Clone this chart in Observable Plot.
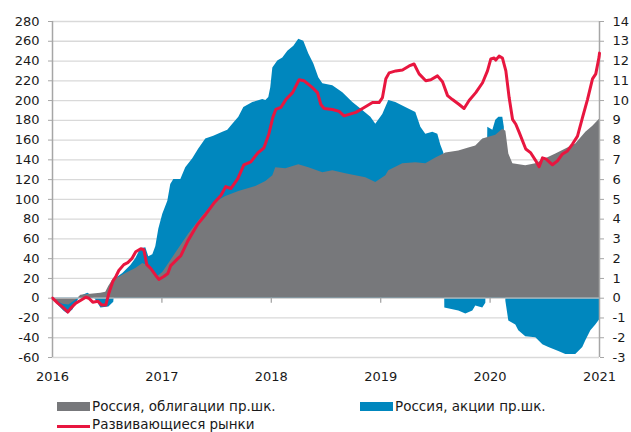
<!DOCTYPE html>
<html>
<head>
<meta charset="utf-8">
<script src="https://cdn.jsdelivr.net/npm/d3@7"></script>
<script src="https://cdn.jsdelivr.net/npm/@observablehq/plot@0.6"></script>
<style>
  html, body { margin: 0; padding: 0; background: #fff; }
  body { width: 631px; height: 432px; position: relative; overflow: hidden; font-family: "DejaVu Sans", sans-serif; color: #1a1a1a; }
  #chart svg { display: block; }
  .lg { position: absolute; font-size: 13.5px; line-height: 13.5px; white-space: nowrap; }
  .sw { position: absolute; }
</style>
</head>
<body>
<div id="chart"></div>
<div class="sw" style="left:57px; top:402px; width:33px; height:9px; background:#77787b;"></div>
<div class="lg" id="lg1" style="left:92px; top:399.6px;"></div>
<div class="sw" style="left:360px; top:402px; width:33px; height:9px; background:#0087be;"></div>
<div class="lg" id="lg2" style="left:395px; top:399.6px;"></div>
<div class="sw" style="left:57px; top:424.5px; width:33px; height:3px; background:#e8163f;"></div>
<div class="lg" id="lg3" style="left:92px; top:418.1px;"></div>
<script>
// ---- Data ----
const seriesNames = ["Россия, облигации пр.шк.", "Россия, акции пр.шк.", "Развивающиеся рынки"];
const years = [2016, 2017, 2018, 2019, 2020, 2021];
const leftTicks = [-60, -40, -20, 0, 20, 40, 60, 80, 100, 120, 140, 160, 180, 200, 220, 240, 260, 280];
const rightTicks = [-3, -2, -1, 0, 1, 2, 3, 4, 5, 6, 7, 8, 9, 10, 11, 12, 13, 14];

// Russia bonds (gray area), left-scale units
const bondT = [2016.000, 2016.094, 2016.149, 2016.213, 2016.259, 2016.350, 2016.442, 2016.487, 2016.515, 2016.560,
  2016.606, 2016.670, 2016.761, 2016.825, 2016.871, 2016.917, 2016.963, 2017.008, 2017.081, 2017.154,
  2017.246, 2017.356, 2017.474, 2017.584, 2017.703, 2017.858, 2017.950, 2018.014, 2018.041, 2018.133,
  2018.251, 2018.343, 2018.471, 2018.562, 2018.681, 2018.772, 2018.864, 2018.955, 2019.047, 2019.074,
  2019.202, 2019.321, 2019.412, 2019.504, 2019.595, 2019.714, 2019.805, 2019.869, 2019.933, 2020.052,
  2020.116, 2020.144, 2020.171, 2020.208, 2020.326, 2020.418, 2020.509, 2020.601, 2020.692, 2020.783,
  2020.875, 2020.939, 2021.000];
const bondV = [0, -6, -7, -2, 3, 4, 5, 6, 12, 20,
  21, 25, 30, 35, 33, 25, 22, 26, 38, 50,
  65, 81, 96, 103, 108, 113, 118, 124, 132, 131,
  135, 132, 127, 129, 126, 124, 122, 117, 124, 129,
  136, 137, 136, 142, 147, 149, 152, 154, 161, 165,
  171, 169, 146, 136, 134, 136, 141, 146, 151, 156,
  168, 174, 181];

// Russia stocks (blue area), left-scale units
const stockT = [2016.000, 2016.058, 2016.103, 2016.140, 2016.186, 2016.222, 2016.259, 2016.323, 2016.368, 2016.405,
  2016.442, 2016.515, 2016.560, 2016.579, 2016.643, 2016.716, 2016.761, 2016.807, 2016.853, 2016.880,
  2016.917, 2016.944, 2016.972, 2017.008, 2017.054, 2017.081, 2017.109, 2017.173, 2017.218, 2017.282,
  2017.337, 2017.401, 2017.474, 2017.557, 2017.602, 2017.648, 2017.703, 2017.749, 2017.831, 2017.922,
  2017.950, 2017.977, 2017.995, 2018.014, 2018.059, 2018.105, 2018.151, 2018.206, 2018.251, 2018.297,
  2018.343, 2018.389, 2018.434, 2018.471, 2018.562, 2018.654, 2018.745, 2018.836, 2018.910, 2018.955,
  2019.019, 2019.074, 2019.138, 2019.229, 2019.321, 2019.367, 2019.412, 2019.476, 2019.522, 2019.549,
  2019.577, 2019.586, 2019.714, 2019.778, 2019.842, 2019.869, 2019.933, 2019.961, 2019.979, 2020.025,
  2020.052, 2020.080, 2020.116, 2020.130, 2020.144, 2020.171, 2020.235, 2020.262, 2020.326, 2020.418,
  2020.482, 2020.537, 2020.628, 2020.692, 2020.783, 2020.847, 2020.875, 2020.921, 2020.966, 2021.000];
const stockV = [0, -8, -13, -16, -12, -4, 2, 5, 2, -3,
  -10, -9, -4, 20, 25, 33, 40, 50, 51, 42,
  44, 52, 70, 85, 98, 115, 120, 120, 132, 141,
  151, 161, 164, 168, 170, 176, 183, 193, 198, 201,
  200, 203, 213, 233, 240, 243, 250, 255, 262, 260,
  247, 237, 223, 217, 215, 208, 198, 190, 183, 176,
  186, 200, 198, 193, 188, 173, 166, 168, 166, 155,
  147, -10, -13, -16, -13, -8, -10, -5, 173, 170,
  180, 183, 183, 173, -3, -23, -27, -33, -39, -40,
  -47, -50, -54, -57, -57, -50, -43, -33, -27, -22];

// Emerging markets (red line), left-scale units (= right scale x 20)
const emT = [2016.000, 2016.048, 2016.094, 2016.140, 2016.167, 2016.213, 2016.259, 2016.304, 2016.332, 2016.368,
  2016.414, 2016.451, 2016.487, 2016.515, 2016.551, 2016.579, 2016.606, 2016.652, 2016.688, 2016.725,
  2016.761, 2016.807, 2016.835, 2016.862, 2016.899, 2016.944, 2016.972, 2017.017, 2017.054, 2017.081,
  2017.145, 2017.173, 2017.237, 2017.328, 2017.401, 2017.474, 2017.539, 2017.584, 2017.630, 2017.694,
  2017.749, 2017.813, 2017.877, 2017.932, 2017.977, 2018.014, 2018.041, 2018.087, 2018.133, 2018.194,
  2018.254, 2018.300, 2018.377, 2018.422, 2018.453, 2018.483, 2018.559, 2018.620, 2018.665, 2018.711,
  2018.772, 2018.834, 2018.925, 2018.985, 2019.016, 2019.047, 2019.077, 2019.138, 2019.199, 2019.260,
  2019.305, 2019.351, 2019.412, 2019.458, 2019.519, 2019.565, 2019.611, 2019.656, 2019.717, 2019.762,
  2019.808, 2019.869, 2019.931, 2019.976, 2020.006, 2020.037, 2020.052, 2020.082, 2020.113, 2020.144,
  2020.174, 2020.205, 2020.235, 2020.265, 2020.326, 2020.372, 2020.418, 2020.448, 2020.479, 2020.510,
  2020.570, 2020.616, 2020.662, 2020.707, 2020.753, 2020.799, 2020.845, 2020.890, 2020.936, 2020.966,
  2020.996, 2021.000];
const emV = [0, -5, -9, -14, -10, -5, -2, 1, 0, -4,
  -3, -7, -7, 5, 17, 22, 28, 34, 36, 40,
  47, 50, 49, 34, 30, 23, 19, 22, 25, 33,
  40, 43, 58, 75, 85, 96, 104, 113, 111, 121,
  135, 138, 147, 152, 166, 183, 191, 193, 201, 208,
  221, 220, 213, 208, 196, 192, 191, 189, 184.5, 186,
  188, 192, 198, 198, 203, 222, 228, 230, 231, 235,
  237, 227, 220, 221, 225, 219, 205, 201, 196, 192,
  200, 208, 218, 230, 242, 243, 241, 245, 243, 230,
  203, 181, 176, 168, 151, 147, 139, 133, 142, 141,
  135, 139, 146, 149, 156, 164, 183, 201, 222, 227,
  244, 248];

const bonds = bondT.map((t, i) => ({t, v: bondV[i]}));
const stocks = stockT.map((t, i) => ({t, v: stockV[i]}));
const em = emT.map((t, i) => ({t, v: emV[i]}));

const GRAY = "#77787b", BLUE = "#0087be", RED = "#e8163f", AXIS = "#a6a6a6", GRID = "#d9d9d9", TXT = "#1a1a1a";
const fmt = d => String(d);

const chart = Plot.plot({
  width: 631,
  height: 395,
  marginLeft: 52,
  marginRight: 32,
  marginTop: 21,
  marginBottom: 38,
  style: {fontFamily: "'DejaVu Sans', sans-serif", fontSize: "13px", background: "#fff", color: TXT, overflow: "visible"},
  x: {domain: [2016, 2021], axis: null},
  y: {domain: [-60, 280], axis: null},
  marks: [
    Plot.ruleY(leftTicks.filter(d => d !== 0), {stroke: GRID, strokeWidth: 1.3}),
    Plot.areaY(stocks, {x: "t", y: "v", fill: BLUE, curve: "linear"}),
    Plot.areaY(bonds, {x: "t", y: "v", fill: GRAY, curve: "linear"}),
    Plot.ruleY([0], {stroke: "#c4c4c4", strokeWidth: 1}),
    Plot.ruleX(years.slice(1, -1), {y1: 0, y2: -5, stroke: AXIS, strokeWidth: 1.3}),
    Plot.ruleX([years[0], years[years.length - 1]], {stroke: AXIS, strokeWidth: 1.5}),
    Plot.line(em, {x: "t", y: "v", stroke: RED, strokeWidth: 3, strokeLinejoin: "round", strokeLinecap: "round", curve: "linear"}),
    Plot.axisY(leftTicks, {anchor: "left", tickSize: 4, tickPadding: 9, tickFormat: fmt, stroke: AXIS, fill: TXT, fontSize: 13, label: null}),
    Plot.axisY(leftTicks, {anchor: "right", tickSize: 4, tickPadding: 9, tickFormat: (d, i) => fmt(rightTicks[i]), stroke: AXIS, fill: TXT, fontSize: 13, label: null}),
    Plot.axisX(years, {anchor: "bottom", tickSize: 0, tickPadding: 14, tickFormat: fmt, fill: TXT, fontSize: 13, label: null})
  ]
});
document.getElementById("chart").appendChild(chart);
document.getElementById("lg1").textContent = seriesNames[0];
document.getElementById("lg2").textContent = seriesNames[1];
document.getElementById("lg3").textContent = seriesNames[2];
</script>
</body>
</html>
